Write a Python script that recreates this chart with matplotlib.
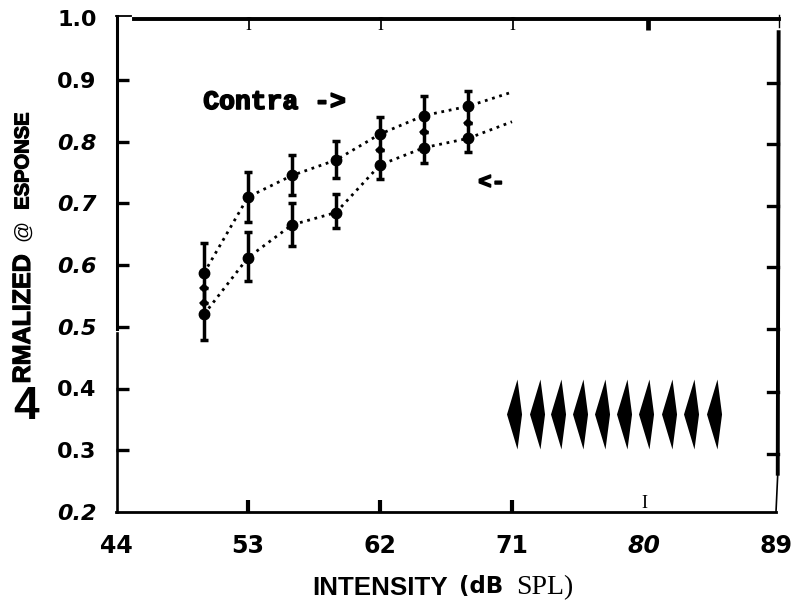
import matplotlib
matplotlib.use('Agg')
import matplotlib.pyplot as plt
import matplotlib.patheffects as pe
from matplotlib.path import Path

#values
intensity = [50, 53, 56, 59, 62, 65, 68]
line_x = [50, 53, 56, 59, 62, 65, 68, 71]

contra_line = [0.587, 0.710, 0.745, 0.770, 0.812, 0.842, 0.857, 0.880]
contra_hi = [0.636, 0.751, 0.778, 0.801, 0.839, 0.873, 0.881]
contra_lo = [0.539, 0.670, 0.714, 0.741, 0.787, 0.816, 0.830]

ipsi_line = [0.520, 0.612, 0.665, 0.685, 0.762, 0.790, 0.805, 0.832]
ipsi_hi = [0.563, 0.654, 0.700, 0.715, 0.787, 0.816, 0.830]
ipsi_lo = [0.479, 0.574, 0.631, 0.660, 0.739, 0.765, 0.783]

join_x = [50, 50, 62, 65, 68]
join_y = [0.563, 0.539, 0.787, 0.816, 0.830]

stim_x = [71.32, 72.91, 74.32, 75.86, 77.34, 78.82, 80.36, 81.89, 83.41, 84.96]
stim_y = [0.359] * 10

x_ticks = [44, 53, 62, 71, 80, 89]
x_italic = [False, False, False, False, True, False]
y_ticks = [1.0, 0.9, 0.8, 0.7, 0.6, 0.5, 0.4, 0.3, 0.2]
y_italic = [False, False, True, True, True, True, False, False, True]
right_ticks = [0.895, 0.796, 0.696, 0.596, 0.496, 0.395, 0.294]
top_serif_ticks = [53, 62, 71]

fig = plt.figure(figsize=(7.92, 6.02), dpi=100)
ax = fig.add_axes([116/792, 90/602, 660/792, 494/602])
ax.set_xlim(44, 89)
ax.set_ylim(0.2, 1.0)

#tick labels, a few of them italic in the scan
ax.set_xticks(x_ticks)
ax.set_xticklabels([str(v) for v in x_ticks], family='DejaVu Sans', weight='bold', fontsize=17)
ax.set_yticks(y_ticks)
ax.set_yticklabels(['%.1f' % v for v in y_ticks], family='DejaVu Sans', weight='bold', fontsize=16)
for lab, it in zip(ax.get_xticklabels(), x_italic):
    lab.set_style('italic' if it else 'normal')
for lab, it in zip(ax.get_yticklabels(), y_italic):
    lab.set_style('italic' if it else 'normal')

ax.tick_params(axis='x', direction='in', length=9, width=3, pad=16)
ax.tick_params(axis='y', direction='in', length=9, width=2.4, pad=14)
for tick, v in zip(ax.xaxis.get_major_ticks(), x_ticks):
    if v in (44, 80, 89):
        tick.tick1line.set_visible(False)
for tick, v in zip(ax.yaxis.get_major_ticks(), y_ticks):
    if v in (1.0, 0.2):
        tick.tick1line.set_visible(False)

#removing the regular frame, the scanned one is uneven
for s in ax.spines.values():
    s.set_visible(False)

k = 'black'
ax.plot([44.05, 44.05], [0.2, 0.49], color=k, lw=1.9, clip_on=False)
ax.plot([44.05, 44.05], [0.497, 1.003], color=k, lw=2.2, clip_on=False)
ax.plot([44, 89.0], [0.2, 0.2], color=k, lw=2.0, clip_on=False)
ax.plot([44, 45], [1.003, 1.003], color=k, lw=1.3, clip_on=False)
ax.plot([45.2, 89.2], [0.998, 0.998], color=k, lw=2.8, clip_on=False)
ax.plot([89.18, 89.12], [0.977, 0.262], color=k, lw=2.8, clip_on=False)
ax.plot([89.12, 89.0], [0.262, 0.2], color=k, lw=1.2, clip_on=False)
ax.plot([89.2, 89.2], [0.985, 1.005], color=k, lw=1.0, clip_on=False)
ax.plot([80.3, 80.3], [0.98, 0.998], color=k, lw=3.4, clip_on=False, solid_capstyle='butt')
for y in right_ticks:
    ax.plot([88.45, 89.12], [y, y], color=k, lw=2.4, clip_on=False)

#thin serif ticks that the scan turned into letters
for v in top_serif_ticks:
    ax.text(v + 0.02, 0.988, 'I', family='Liberation Serif', fontsize=13, ha='center', va='center')
ax.text(80, 0.213, 'I', family='Liberation Serif', fontsize=13, ha='center', va='center')

#the two curves
for ys, hi, lo in [(contra_line, contra_hi, contra_lo), (ipsi_line, ipsi_hi, ipsi_lo)]:
    ax.plot(line_x, ys, color=k, lw=2.0, ls=(0, (1, 1.7)))
    mid = ys[:len(intensity)]
    err = [[m - l for m, l in zip(mid, lo)], [h - m for m, h in zip(mid, hi)]]
    ax.errorbar(intensity, mid, yerr=err, fmt='o', color=k, ms=7.5, elinewidth=2.5,
                capsize=3, capthick=2.5)
ax.plot(join_x, join_y, 'D', color=k, ms=5, mew=0)

#stimulus train
pip = Path([(0, 1), (-0.3, 0), (0, -1), (0.13, 0), (0, 1)],
           [Path.MOVETO, Path.LINETO, Path.LINETO, Path.LINETO, Path.CLOSEPOLY])
ax.plot(stim_x, stim_y, ls='none', marker=pip, ms=50.4, mew=0, color=k)

heavy = [pe.withStroke(linewidth=1.2, foreground='black')]
ax.text(49.95, 0.864, 'Contra ->', family='Liberation Mono', weight='bold', fontsize=19,
        va='center', ha='left', path_effects=heavy)
ax.text(68.7, 0.733, '<-', family='Liberation Mono', weight='bold', fontsize=16,
        va='center', ha='left', path_effects=heavy)

#axis titles come in pieces because of the mixed fonts
def px(x, y):
    return x / 792, 1 - y / 602

fig.text(*px(312, 588), 'INTENSITY', family='Liberation Sans', weight='bold', fontsize=18.7, va='center')
fig.text(*px(459, 587), '(dB', family='DejaVu Sans', weight='bold', fontsize=16.5, va='center')
fig.text(*px(516, 588), 'SPL)', family='Liberation Serif', fontsize=20, va='center')

fig.text(*px(23, 161), 'ESPONSE', family='Liberation Sans', weight='bold', fontsize=14.5,
         rotation=90, ha='center', va='center', path_effects=[pe.withStroke(linewidth=0.8, foreground='black')])
fig.text(*px(23, 230), '@', family='Liberation Sans', fontsize=15, rotation=90, ha='center', va='center')
fig.text(*px(23, 319), 'RMALIZED', family='Liberation Sans', weight='bold', fontsize=18,
         rotation=90, ha='center', va='center', path_effects=[pe.withStroke(linewidth=0.8, foreground='black')])
fig.text(*px(26, 407), '4', family='Liberation Sans', weight='bold', fontsize=33, ha='center', va='center')

plt.savefig('out.png', dpi=100)
